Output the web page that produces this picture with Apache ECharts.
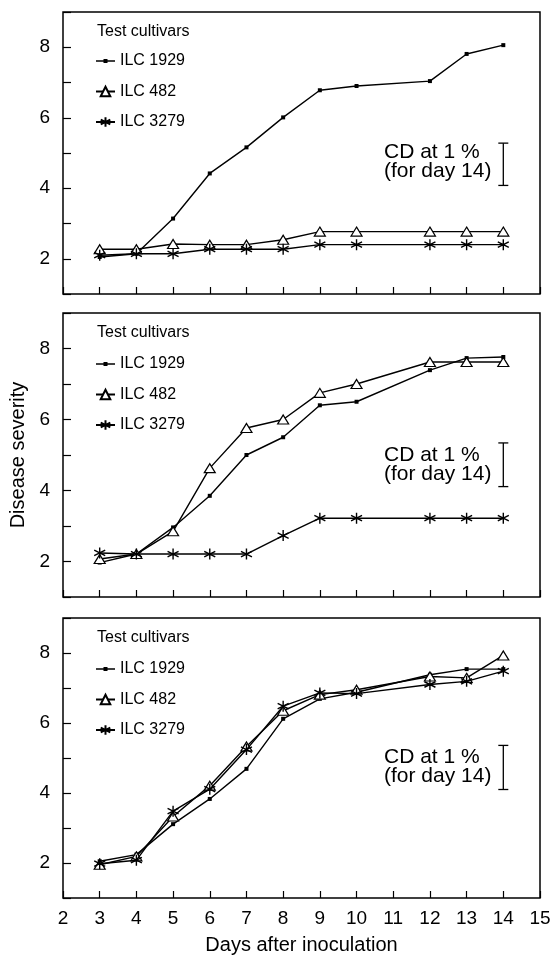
<!DOCTYPE html>
<html>
<head>
<meta charset="utf-8">
<script src="https://cdn.jsdelivr.net/npm/echarts@6/dist/echarts.min.js"></script>
<style>
html,body{margin:0;padding:0;background:#fff;}
#chart{width:560px;height:957px;}
</style>
</head>
<body>
<div id="chart"></div>
<script>
// ---- data ----
const days = [3, 4, 5, 6, 7, 8, 9, 10, 12, 13, 14];
const seriesNames = ['ILC 1929', 'ILC 482', 'ILC 3279'];
const xTicks = [2, 3, 4, 5, 6, 7, 8, 9, 10, 11, 12, 13, 14, 15];
const yTickLabels = [2, 4, 6, 8];

const p1_ilc1929 = [2.05, 2.14, 3.14, 4.42, 5.16, 6.01, 6.78, 6.90, 7.04, 7.81, 8.06];
const p1_ilc482  = [2.27, 2.27, 2.42, 2.40, 2.40, 2.54, 2.77, 2.77, 2.77, 2.77, 2.77];
const p1_ilc3279 = [2.10, 2.14, 2.14, 2.27, 2.27, 2.27, 2.40, 2.40, 2.40, 2.40, 2.40];

const p2_ilc1929 = [1.97, 2.21, 2.96, 3.85, 5.00, 5.50, 6.40, 6.50, 7.39, 7.73, 7.76];
const p2_ilc482  = [2.07, 2.21, 2.85, 4.63, 5.76, 6.00, 6.75, 7.00, 7.62, 7.62, 7.62];
const p2_ilc3279 = [2.24, 2.21, 2.21, 2.21, 2.21, 2.73, 3.22, 3.22, 3.22, 3.22, 3.22];

const p3_ilc1929 = [2.05, 2.24, 3.11, 3.83, 4.69, 6.12, 6.69, 6.88, 7.38, 7.54, 7.54];
const p3_ilc482  = [1.95, 2.19, 3.33, 4.21, 5.33, 6.35, 6.81, 6.95, 7.33, 7.29, 7.93];
const p3_ilc3279 = [1.98, 2.08, 3.48, 4.11, 5.24, 6.48, 6.86, 6.84, 7.10, 7.19, 7.48];

// CD bar (day, top, bottom) for each panel
const cdDay = 14;
const cdTop = [5.28, 5.34, 5.36];
const cdBottom = [4.08, 4.11, 4.10];

const panels = [
  [p1_ilc1929, p1_ilc482, p1_ilc3279],
  [p2_ilc1929, p2_ilc482, p2_ilc3279],
  [p3_ilc1929, p3_ilc482, p3_ilc3279]
];

// ---- layout / style ----
const FONT = '"Liberation Sans", Arial, Helvetica, sans-serif';
const grids = [
  {left: 63, top: 12, width: 477, height: 282},
  {left: 63, top: 313, width: 477, height: 284},
  {left: 63, top: 618, width: 477, height: 280}
];
const legendTops = [48, 351, 656];
const headTops = [31, 332, 637];
const cdTextY = [153, 456, 758];

const asterisk = 'path://M0,-10L0,10M-8.66,-5L8.66,5M-8.66,5L8.66,-5';
const squareLegendIcon = 'path://M0,5.3L7.5,5.3L7.5,4L11.5,4L11.5,5.3L19,5.3L19,6.7L11.5,6.7L11.5,8L7.5,8L7.5,6.7L0,6.7Z';
const symbols = ['rect', 'triangle', asterisk];
const symbolSizes = [4, [11, 9], 11];
const symbolStyles = [
  {color: '#000', borderColor: '#000', borderWidth: 0},
  {color: '#fff', borderColor: '#000', borderWidth: 1.2},
  {color: '#000', borderColor: '#000', borderWidth: 1.4}
];

const option = {
  animation: false,
  backgroundColor: '#fff',
  textStyle: {fontFamily: FONT, color: '#000'},
  grid: grids.map(g => Object.assign({show: true, borderColor: '#000', borderWidth: 1.5, backgroundColor: 'transparent'}, g)),
  xAxis: grids.map((g, i) => ({
    type: 'value', gridIndex: i, min: xTicks[0], max: xTicks[xTicks.length - 1], interval: 1,
    axisLine: {show: false},
    axisTick: {show: true, inside: true, length: 7, lineStyle: {color: '#000', width: 1.2}},
    splitLine: {show: false},
    axisLabel: {show: i === 2, fontSize: 19, color: '#000', margin: 11, fontFamily: FONT},
    name: i === 2 ? 'Days after inoculation' : '',
    nameLocation: 'middle', nameGap: 37,
    nameTextStyle: {fontSize: 20, color: '#000', fontFamily: FONT}
  })),
  yAxis: grids.map((g, i) => ({
    type: 'value', gridIndex: i, min: 1, max: 9, interval: 1,
    axisLine: {show: false},
    axisTick: {show: true, inside: true, length: 8, lineStyle: {color: '#000', width: 1.2}},
    splitLine: {show: false},
    axisLabel: {
      fontSize: 19, color: '#000', margin: 13, fontFamily: FONT,
      formatter: v => (yTickLabels.indexOf(v) >= 0 ? String(v) : '')
    },
    name: i === 1 ? 'Disease severity' : '',
    nameLocation: 'middle', nameGap: 27,
    nameTextStyle: {fontSize: 20, color: '#000', fontFamily: FONT}
  })),
  legend: grids.map((g, i) => ({
    data: [{name: seriesNames[0], icon: squareLegendIcon}, {name: seriesNames[1]}, {name: seriesNames[2]}],
    orient: 'vertical', left: 90, top: legendTops[i],
    itemWidth: 19, itemHeight: 12, itemGap: 14.5, selectedMode: false,
    textStyle: {fontSize: 16, color: '#000', fontFamily: FONT}
  })),
  graphic: [],
  series: []
};

panels.forEach((vals, p) => {
  vals.forEach((arr, s) => {
    option.series.push({
      type: 'line', name: seriesNames[s], xAxisIndex: p, yAxisIndex: p,
      data: days.map((d, k) => [d, arr[k]]),
      symbol: symbols[s], symbolSize: symbolSizes[s], showSymbol: true,
      lineStyle: {color: '#000', width: 1.4},
      itemStyle: symbolStyles[s],
      z: 2 + s
    });
  });
  option.series.push({
    type: 'custom', xAxisIndex: p, yAxisIndex: p,
    data: [[cdDay, cdTop[p], cdBottom[p]]],
    renderItem: function (params, api) {
      const t = api.coord([api.value(0), api.value(1)]);
      const b = api.coord([api.value(0), api.value(2)]);
      const hw = 5;
      const st = {stroke: '#000', lineWidth: 1.3};
      return {type: 'group', children: [
        {type: 'line', shape: {x1: t[0], y1: t[1], x2: b[0], y2: b[1]}, style: st},
        {type: 'line', shape: {x1: t[0] - hw, y1: t[1], x2: t[0] + hw, y2: t[1]}, style: st},
        {type: 'line', shape: {x1: b[0] - hw, y1: b[1], x2: b[0] + hw, y2: b[1]}, style: st}
      ]};
    }
  });
  option.graphic.push({
    type: 'text', left: 97, top: headTops[p] - 7,
    style: {text: 'Test cultivars', font: '16px ' + FONT, fill: '#000'}
  });
  option.graphic.push({
    type: 'text', left: 384, top: cdTextY[p] - 11,
    style: {text: 'CD at 1 %\n(for day 14)', font: '21px ' + FONT, fill: '#000', lineHeight: 19}
  });
});

const chart = echarts.init(document.getElementById('chart'), null, {renderer: 'canvas'});
chart.setOption(option);
</script>
</body>
</html>
